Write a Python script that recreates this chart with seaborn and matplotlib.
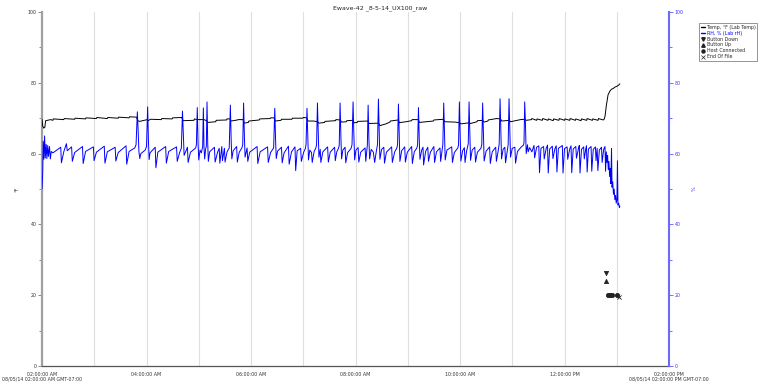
import pandas as pd
import matplotlib
matplotlib.use("Agg")
import matplotlib.pyplot as plt
from matplotlib.lines import Line2D
from matplotlib.ticker import MultipleLocator
import seaborn as sns

# ---------------- data ----------------
title = "Ewave-42 _8-5-14_UX100_raw"
x_tick_hours = [0, 2, 4, 6, 8, 10, 12]
x_tick_labels = ["02:00:00 AM\n08/05/14 02:00:00 AM GMT-07:00", "04:00:00 AM", "06:00:00 AM",
                 "08:00:00 AM", "10:00:00 AM", "12:00:00 PM",
                 "02:00:00 PM\n08/05/14 02:00:00 PM GMT-07:00"]
y_ticks = [0, 20, 40, 60, 80, 100]
series_names = ["Temp, °F (Lab Temp)", "RH, % (Lab rH)"]
event_names = ["Button Down", "Button Up", "Host Connected", "End Of File"]

# (minutes after 02:00 AM, °F)
temp_samples = [
    (0, 69.7), (0.8, 67.8), (2.0, 67.2), (3.2, 67.4), (4.2, 69.3), (10, 69.6), (12.5, 69.4), (13, 69.8),
    (25, 69.6), (25.5, 69.9), (37.5, 69.7), (38, 70.0), (50, 69.8), (50.5, 70.1), (62.5, 69.9), (63, 70.2),
    (75, 69.9), (75.5, 70.2), (87.5, 70.0), (88, 70.3), (100, 70.1), (100.5, 70.4), (108.5, 70.3), (110, 69.3),
    (112, 69.1), (121, 69.6), (122, 69.3), (124.5, 69.7), (137, 69.6), (137.5, 69.9), (149.5, 69.8), (150, 70.1),
    (160.5, 70.2), (162, 69.3), (174.5, 69.4), (175, 69.8), (178, 69.6), (186, 69.6), (189, 69.3), (190, 68.8),
    (199.5, 69.0), (200, 69.4), (212, 69.5), (212.5, 69.8), (216, 69.8), (217, 69.2), (224.5, 69.5), (225, 69.6),
    (231, 69.6), (232, 68.6), (237, 68.8), (237.5, 69.2), (249.5, 69.5), (250, 69.8), (262, 69.9), (262.5, 70.1),
    (266.5, 70.1), (268, 69.2), (274.5, 69.4), (275, 69.7), (287, 69.7), (287.5, 70.0), (299.5, 70.0), (300, 70.2),
    (304, 70.1), (305.5, 69.2), (312, 69.2), (316.5, 69.0), (318, 68.6), (324.5, 68.8), (325, 69.1), (337, 69.3),
    (337.5, 69.6), (342.5, 69.5), (344, 68.9), (349.5, 69.0), (350, 69.3), (357, 69.4), (358.5, 68.7), (362, 68.8),
    (362.5, 69.1), (374.5, 69.2), (375.5, 68.5), (386.5, 68.6), (388, 67.9), (395, 68.4), (399.5, 68.9), (400, 69.2),
    (409, 69.5), (410.5, 68.7), (412, 68.8), (418, 69.0), (424.5, 69.3), (425, 69.6), (432, 69.6), (433.5, 68.8),
    (437, 68.9), (449.5, 69.2), (450, 69.5), (461, 69.7), (462.5, 69.0), (474.5, 68.9), (479.5, 68.7), (481, 68.4),
    (487, 68.6), (490.5, 68.7), (492, 68.5), (499.5, 69.0), (500, 69.3), (506, 69.4), (507.5, 68.9), (512, 69.2),
    (512.5, 69.5), (522, 69.9), (526.5, 69.8), (528, 69.2), (536.5, 69.4), (538, 69.0), (549.5, 69.6), (554.5, 69.7),
    (556, 69.4), (562, 69.6), (562.5, 69.9), (568, 69.4), (568.5, 69.8), (574.5, 69.4), (575, 69.9), (581, 69.4),
    (581.5, 69.8), (587, 69.3), (587.5, 69.8), (593.5, 69.4), (594, 69.9), (600, 69.4), (600.5, 69.8), (606, 69.4),
    (606.5, 69.9), (612.5, 69.4), (613, 69.8), (619, 69.3), (619.5, 69.8), (625.5, 69.4), (626, 69.9), (632, 69.4),
    (632.5, 69.8), (638.5, 69.4), (639, 69.9), (644.5, 69.5), (645.5, 69.7), (646.5, 70.5), (648, 73.5), (650, 76.6),
    (652, 77.6), (654, 78.2), (656, 78.4), (658, 78.8), (660, 79.0), (662, 79.3), (663.6, 79.7),
]

# (minutes after 02:00 AM, %RH)
rh_samples = [
    (0, 50.0), (0.8, 54.5), (1.4, 63.5), (2.2, 58.4), (3.0, 65.0), (3.8, 58.8), (4.8, 62.6), (5.6, 58.6),
    (6.6, 62.3), (7.4, 59.2), (8.6, 62.0), (9.6, 58.5), (10.6, 60.6),
    (12.5, 60.2), (21.5, 61.8), (22.3, 57.4),
    (25, 60.5), (28, 62.8), (29, 60.8), (34, 61.9), (34.8, 57.8),
    (37.5, 60.3), (46.5, 62.0), (47.3, 57.2),
    (50, 60.6), (59, 61.9), (59.8, 58.0),
    (62.5, 60.4), (71.5, 62.1), (72.3, 57.3),
    (75, 60.5), (84, 61.8), (84.8, 57.9),
    (87.5, 60.3), (96.5, 62.2), (97.3, 57.0),
    (100, 60.6), (106.5, 61.6), (108, 62.5), (109.5, 71.8), (110.5, 66.0), (111.3, 60.5), (112.3, 58.6),
    (113.5, 60.0), (118.5, 61.0), (120, 62.0), (121.3, 73.2), (122.2, 64.0), (123, 58.3), (124, 60.2),
    (130, 61.8), (130.8, 56.0),
    (133, 60.4), (142, 62.0), (142.8, 57.3),
    (145.5, 60.6), (154.5, 61.9), (155.3, 57.8),
    (158, 60.3), (160, 61.5), (161.3, 72.0), (162.3, 65.0), (163.2, 59.5), (167, 61.8), (167.8, 57.5),
    (170.5, 60.4), (176.5, 61.6), (177.3, 62.5), (178.3, 73.0), (179.2, 63.0), (180, 58.2), (181.5, 61.0),
    (183, 60.2), (184.5, 62.0), (185.3, 72.9), (186, 62.0), (186.8, 58.5), (188, 61.5), (188.7, 62.0),
    (189.5, 74.6), (190.3, 63.0), (191, 57.8), (192.5, 60.5),
    (198, 61.8), (198.8, 57.6), (201.5, 60.3), (203.5, 61.5), (204.2, 57.3), (206.5, 62.0), (207.2, 58.0),
    (209.5, 61.5), (210.2, 57.6), (212.5, 60.5),
    (215, 61.6), (216.3, 73.7), (217.2, 64.0), (218, 58.5), (219.5, 60.8),
    (223.5, 62.0), (224.3, 57.6), (226.5, 60.4), (229.5, 61.6), (230.5, 62.5), (231.5, 74.3), (232.4, 65.0),
    (233.2, 59.0), (235.5, 61.6), (236.3, 57.8),
    (238.5, 60.4), (247, 62.0), (247.8, 57.2),
    (250.5, 60.5), (259, 61.9), (259.8, 57.5),
    (262.5, 60.3), (266, 61.6), (267.3, 72.8), (268.2, 64.0), (269, 58.6), (270.5, 60.7),
    (275, 61.8), (275.8, 57.4), (278, 60.2), (283, 62.1), (283.8, 57.0),
    (286.5, 60.5), (290.5, 61.9), (291.3, 55.2), (293, 60.8), (297, 61.5), (297.8, 57.8),
    (300.5, 60.4), (302.5, 61.5), (303.2, 62.6), (304.3, 72.8), (305.2, 64.5), (306, 58.2), (307.5, 61.0),
    (309.5, 60.3), (310.3, 57.5), (312.5, 60.6), (314.5, 61.6), (315.3, 62.5), (316.3, 74.3), (317.2, 66.0),
    (318, 59.0), (319.5, 61.2), (320.2, 57.5), (322.5, 60.5),
    (328, 61.9), (328.8, 57.6), (331, 60.4), (336, 61.8), (336.8, 58.0), (338.5, 60.5), (340.5, 61.5),
    (341.3, 62.3), (342.3, 74.3), (343.2, 65.0), (344, 58.5), (345.5, 61.0), (348, 61.8), (348.8, 57.4),
    (351, 60.3), (355, 61.5), (356, 62.5), (357.2, 74.6), (358.1, 65.5), (359, 58.2), (360.5, 61.0),
    (363, 61.7), (363.8, 57.6), (366, 60.4), (371, 61.6), (371.8, 57.8), (373, 61.0), (373.6, 62.4),
    (374.5, 73.7), (375.4, 64.0), (376.2, 58.5), (378, 61.2), (380.5, 60.4), (382, 57.5), (384, 60.8),
    (385.3, 62.6), (386.3, 75.4), (387.2, 66.0), (388, 58.4), (390, 61.2), (392.5, 61.8), (393.3, 57.3),
    (395.5, 60.4), (401.5, 61.9), (402.3, 57.5), (405, 60.5), (407.5, 61.6), (408.3, 62.5), (409.3, 74.0),
    (410.2, 65.0), (411, 57.8), (413, 60.8), (416.5, 61.9), (417.3, 57.6), (419.5, 60.4), (424.5, 62.0),
    (425.3, 57.2), (427.5, 60.5), (430.5, 61.6), (431.3, 62.4), (432.3, 73.0), (433.2, 64.0), (434, 58.4),
    (436, 61.0), (437.5, 61.8), (438.2, 56.8), (440.5, 60.6), (443, 61.8), (443.8, 57.8), (446, 60.4),
    (450, 62.0), (450.8, 57.5), (453, 60.5), (457, 61.6), (457.8, 57.8), (459.5, 61.0), (460.3, 62.6),
    (461.3, 74.3), (462.2, 66.0), (463, 58.2), (465, 61.0), (470.5, 61.9), (471.3, 57.5), (473.5, 60.3),
    (477.5, 61.6), (478.3, 62.4), (479.3, 74.6), (480.2, 65.0), (481, 57.9), (483, 60.8), (485, 61.7),
    (485.8, 57.5), (487.5, 60.6), (488.8, 62.0), (489.5, 62.8), (490.4, 74.6), (491.3, 65.5), (492.1, 58.1),
    (494, 61.0), (497, 61.8), (497.8, 57.6), (500, 60.4), (504, 61.5), (505, 62.5), (506, 74.3),
    (506.9, 65.0), (507.7, 57.9), (510, 60.7), (514, 61.9), (514.8, 57.2), (517, 60.5), (521, 61.8),
    (521.8, 57.8), (524, 61.0), (525, 62.7), (526, 75.5), (526.9, 66.0), (527.7, 58.5), (529.5, 61.2),
    (531.5, 61.8), (532.3, 57.4), (534.5, 61.0), (535.3, 62.5), (536.3, 75.5), (537.2, 67.0), (538, 59.0),
    (540, 61.5), (543, 61.8), (543.8, 57.3), (546, 60.6), (550, 61.8), (552.8, 62.4), (553.5, 63.0),
    (554.3, 74.6), (555.2, 68.0), (556, 60.0), (557.5, 62.5), (558.3, 60.5), (560, 61.7),
    (562.5, 60.5), (565, 62.3), (565.7, 58.8), (568, 61.8), (570.5, 62.2), (571.3, 54.6), (573, 61.5),
    (576, 62.0), (576.7, 58.5), (579, 61.5), (580.5, 62.4), (581.3, 54.5), (583, 61.3), (586, 62.1),
    (586.7, 58.6), (589, 61.4), (590.5, 62.2), (591.3, 54.8), (593, 61.5), (596, 62.0), (597.5, 62.3),
    (598.3, 54.5), (600, 61.4), (603, 61.9), (603.7, 58.4), (606, 61.3), (607.5, 62.2), (608.3, 54.6),
    (610, 61.3), (613, 62.0), (613.7, 58.7), (616, 61.4), (617, 62.3), (617.8, 54.5), (619.5, 61.2),
    (622, 61.9), (622.7, 58.5), (624.5, 61.4), (625.2, 62.2), (626, 54.8), (627.5, 61.3), (630.5, 62.0),
    (631.3, 55.0), (633, 61.2), (635.5, 61.9), (636.2, 58.0), (637.5, 61.5), (638.3, 55.2), (640, 61.0),
    (642.5, 61.8), (643.2, 57.5), (645, 61.2), (646.5, 62.0),
    (647.2, 55.0), (648, 60.5), (648.8, 57.5), (649.5, 59.5), (650.3, 55.5), (651, 57.8), (651.8, 53.5),
    (652.5, 55.8), (653.2, 51.5), (654, 61.5), (654.6, 50.5), (655.4, 52.0), (656.2, 48.5), (657, 50.0),
    (657.8, 47.0), (658.6, 48.2), (659.4, 46.0), (660.2, 47.0), (660.8, 58.0), (661.4, 45.5), (662.2, 46.0),
    (663, 44.8), (663.6, 45.2),
]

button_down = [(647.6, 26.2)]
button_up = [(647.6, 24.1)]
host_connected = [(650.2, 20.0), (652.2, 20.0), (654.2, 20.0), (660.7, 20.0)]
end_of_file = [(662.8, 19.4)]

# ---------------- frames ----------------
def frame(samples):
    df = pd.DataFrame(samples, columns=["minute", "value"])
    df["hour"] = df["minute"] / 60.0
    return df

temp_df = frame(temp_samples)
rh_df = frame(rh_samples)

# ---------------- plot ----------------
sns.set_style("white")
plt.rcParams["font.family"] = ["DejaVu Sans"]

fig = plt.figure(figsize=(7.61, 3.84), dpi=100)
ax = fig.add_axes([42 / 761, 18 / 384, 627 / 761, 354 / 384])
ax2 = ax.twinx()

BLUE = "#0000ff"
sns.lineplot(data=temp_df, x="hour", y="value", ax=ax, color="black", lw=0.7,
             estimator=None, sort=False, legend=False, zorder=3)
sns.lineplot(data=rh_df, x="hour", y="value", ax=ax2, color=BLUE, lw=0.7,
             estimator=None, sort=False, legend=False, zorder=3)

ev_style = [(button_down, "v"), (button_up, "^"), (host_connected, "o"), (end_of_file, "x")]
for pts, mk in ev_style:
    edf = frame(pts)
    sns.scatterplot(data=edf, x="hour", y="value", ax=ax2, marker=mk, s=9,
                    color="#222222", edgecolor="#222222", linewidth=0.6, legend=False, zorder=4)

for a in (ax, ax2):
    a.set_xlim(0, 12)
    a.set_ylim(0, 100)
    a.set_xlabel("")
    a.set_ylabel("")

# x axis
ax.set_xticks(x_tick_hours, labels=x_tick_labels)
ax.xaxis.set_minor_locator(MultipleLocator(1))
for lbl in ax.get_xticklabels():
    lbl.set_linespacing(0.95)
ax.xaxis.grid(True, which="both", color="#dedede", lw=0.8, zorder=0)
ax.set_axisbelow(True)
ax.tick_params(axis="x", which="major", length=3, width=0.6, color="#555555",
               labelsize=3.4, labelcolor="#333333", pad=1.2)
ax.tick_params(axis="x", which="minor", length=2.5, width=0.6, color="#777777")

# left y axis
ax.set_yticks(y_ticks)
ax.yaxis.set_minor_locator(MultipleLocator(10))
ax.tick_params(axis="y", which="major", length=3, width=0.6, color="#777777",
               labelsize=3.4, labelcolor="#333333", pad=1)
ax.tick_params(axis="y", which="minor", length=2.5, width=0.6, color="#777777")
ax.set_ylabel("°F", fontsize=3.6, color="#333333")
ax.yaxis.set_label_coords(-0.036, 0.5)

# right y axis
ax2.set_yticks(y_ticks)
ax2.yaxis.set_minor_locator(MultipleLocator(10))
ax2.tick_params(axis="y", which="major", length=3, width=0.6, color="#5a5aff",
                labelsize=3.4, labelcolor="#3a3aff", pad=1)
ax2.tick_params(axis="y", which="minor", length=2.5, width=0.6, color="#5a5aff")
ax2.set_ylabel("%", fontsize=3.6, color="#3a3aff")
ax2.yaxis.set_label_coords(1.036, 0.5)

# spines
ax.spines["top"].set_visible(False)
ax.spines["right"].set_visible(False)
ax.spines["left"].set_color("#a0a0a0")
ax.spines["left"].set_linewidth(1.6)
ax.spines["bottom"].set_color("#555555")
ax.spines["bottom"].set_linewidth(0.9)
for s in ("top", "left", "bottom"):
    ax2.spines[s].set_visible(False)
ax2.spines["right"].set_color("#6a6aff")
ax2.spines["right"].set_linewidth(1.5)

fig.text(380 / 761, 1 - 8 / 384, title, ha="center", va="center", fontsize=4.5, color="#222222")

handles = [
    Line2D([], [], color="black", lw=1.0),
    Line2D([], [], color=BLUE, lw=1.0),
    Line2D([], [], color="#222222", marker="v", ls="none", ms=2.5),
    Line2D([], [], color="#222222", marker="^", ls="none", ms=2.5),
    Line2D([], [], color="#222222", marker="o", ls="none", ms=2.2),
    Line2D([], [], color="#222222", marker="x", ls="none", ms=2.2, mew=0.5),
]
labels = series_names + event_names
leg = fig.legend(handles, labels, loc="upper left", bbox_to_anchor=(699 / 761, 1 - 23 / 384),
                 fontsize=3.4, frameon=True, fancybox=False, handlelength=1.0, handletextpad=0.3,
                 labelspacing=0.2, borderpad=0.35, borderaxespad=0)
leg.get_frame().set_edgecolor("#666666")
leg.get_frame().set_linewidth(0.6)
leg.texts[1].set_color(BLUE)

fig.savefig("out.png", dpi=100)
